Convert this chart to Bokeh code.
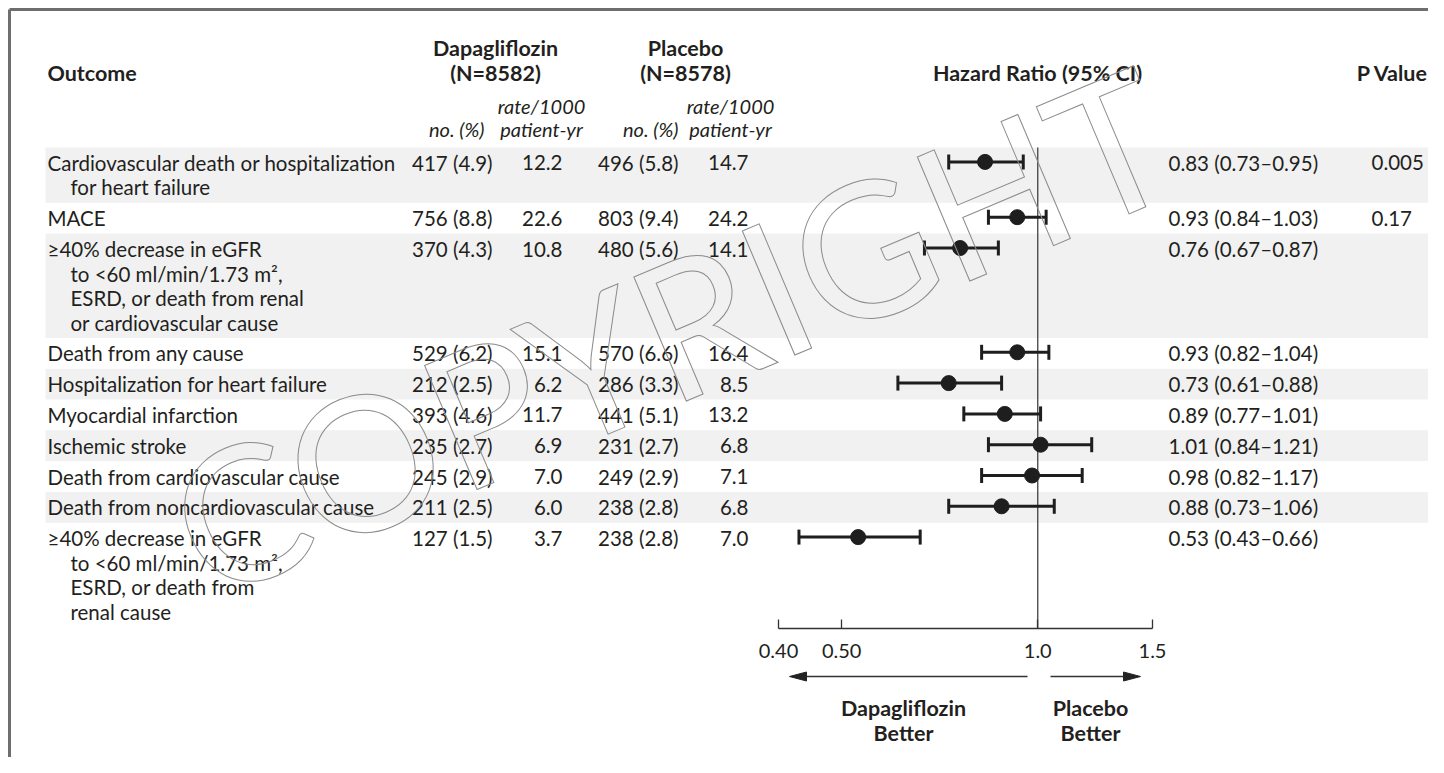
import math
from bokeh.plotting import figure
from bokeh.models import Range1d, LogScale, LogAxis, FixedTicker
from bokeh.core.properties import value
from bokeh.embed import file_html
from bokeh.resources import INLINE

# ---------------- data ----------------
outcome_lines = [
    ["Cardiovascular death or hospitalization", "for heart failure"],
    ["MACE"],
    ["\u226540% decrease in eGFR", "to <60 ml/min/1.73 m\u00b2,", "ESRD, or death from renal", "or cardiovascular cause"],
    ["Death from any cause"],
    ["Hospitalization for heart failure"],
    ["Myocardial infarction"],
    ["Ischemic stroke"],
    ["Death from cardiovascular cause"],
    ["Death from noncardiovascular cause"],
    ["\u226540% decrease in eGFR", "to <60 ml/min/1.73 m\u00b2,", "ESRD, or death from", "renal cause"],
]
dapa_events = [417, 756, 370, 529, 212, 393, 235, 245, 211, 127]
dapa_pct = [4.9, 8.8, 4.3, 6.2, 2.5, 4.6, 2.7, 2.9, 2.5, 1.5]
dapa_rate = [12.2, 22.6, 10.8, 15.1, 6.2, 11.7, 6.9, 7.0, 6.0, 3.7]
pla_events = [496, 803, 480, 570, 286, 441, 231, 249, 238, 238]
pla_pct = [5.8, 9.4, 5.6, 6.6, 3.3, 5.1, 2.7, 2.9, 2.8, 2.8]
pla_rate = [14.7, 24.2, 14.1, 16.4, 8.5, 13.2, 6.8, 7.1, 6.8, 7.0]
hr = [0.83, 0.93, 0.76, 0.93, 0.73, 0.89, 1.01, 0.98, 0.88, 0.53]
hr_lo = [0.73, 0.84, 0.67, 0.82, 0.61, 0.77, 0.84, 0.82, 0.73, 0.43]
hr_hi = [0.95, 1.03, 0.87, 1.04, 0.88, 1.01, 1.21, 1.17, 1.06, 0.66]
p_values = ["0.005", "0.17", "", "", "", "", "", "", "", ""]
tick_values = [0.40, 0.50, 1.0, 1.5]
tick_labels = ["0.40", "0.50", "1.0", "1.5"]
group_names = ["Dapagliflozin", "Placebo"]
group_ns = ["(N=8582)", "(N=8578)"]

# ---------------- layout constants (picture pixels) ----------------
FONT = "Lato"
TXT = "#231f20"
BAND = "#f1f1f1"
W, H = 1428, 757
X0, Y0 = 0, 0
ROW_TOP0, ROW_H1, LINE_H = 147.0, 30.8, 24.5
AX_LEFT_PX, AX_RIGHT_PX = 778.0, 1152.0
AXIS_Y = 628.0
FS = "20.5px"
FSB = "21.5px"
FSI = "20px"

p = figure(width=W, height=H, x_range=Range1d(X0, X0 + W), y_range=Range1d(Y0 + H, Y0),
           output_backend="svg", toolbar_location=None, x_axis_type=None, y_axis_type=None,
           min_border=0)
p.outline_line_color = None
p.background_fill_color = "white"
p.border_fill_color = "white"

# log scale for hazard ratios, aligned with the axis pixel extent
k = (AX_RIGHT_PX - AX_LEFT_PX) / math.log(tick_values[-1] / tick_values[0])
ref_px = AX_LEFT_PX - k * math.log(tick_values[0])
p.extra_x_ranges = {"hr": Range1d(math.exp((X0 - ref_px) / k), math.exp((X0 + W - ref_px) / k))}
p.extra_x_scales = {"hr": LogScale()}

# rows
tops, bots = [], []
t = ROW_TOP0
for lines in outcome_lines:
    tops.append(t)
    t += ROW_H1 + LINE_H * (len(lines) - 1)
    bots.append(t)
centers = [tp + ROW_H1 / 2 for tp in tops]

# bands
bi = [i for i in range(len(tops)) if i % 2 == 0]
p.quad(left=[45] * len(bi), right=[X0 + W] * len(bi), top=[tops[i] for i in bi],
       bottom=[bots[i] for i in bi], fill_color=BAND, line_color=None)

# frame lines
p.segment(x0=[9, 9], y0=[9, 9], x1=[X0 + W, 9], y1=[9, Y0 + H],
          line_color="#6e6e6e", line_width=3)


def txt(xs, ys, texts, align="left", style="normal", size=FS):
    p.text(x=xs, y=ys, text=texts, text_font=value(FONT), text_font_size=size,
           text_font_style=style, text_align=align, text_baseline="middle", text_color=TXT)


# headers
txt([47], [72], ["Outcome"], style="bold", size=FSB)
txt([495, 685], [47, 47], group_names, align="center", style="bold", size=FSB)
txt([495, 685], [72, 72], group_ns, align="center", style="bold", size=FSB)
txt([1037], [72], ["Hazard Ratio (95% CI)"], align="center", style="bold", size=FSB)
txt([1392], [72], ["P Value"], align="center", style="bold", size=FSB)
txt([484, 678], [128, 128], ["no. (%)", "no. (%)"], align="right", style="italic", size=FSI)
txt([541, 730], [105, 105], ["rate/1000", "rate/1000"], align="center", style="italic", size=FSI)
txt([541, 730], [128, 128], ["patient-yr", "patient-yr"], align="center", style="italic", size=FSI)

# outcome labels
lx, ly, lt = [], [], []
for c, lines in zip(centers, outcome_lines):
    for j, s in enumerate(lines):
        lx.append(47 if j == 0 else 70)
        ly.append(c + j * LINE_H)
        lt.append(s)
txt(lx, ly, lt)

txt([492] * 10, centers, [f"{e} ({q:.1f})" for e, q in zip(dapa_events, dapa_pct)], align="right")
txt([562] * 10, centers, [f"{r:.1f}" for r in dapa_rate], align="right")
txt([678] * 10, centers, [f"{e} ({q:.1f})" for e, q in zip(pla_events, pla_pct)], align="right")
txt([748] * 10, centers, [f"{r:.1f}" for r in pla_rate], align="right")
txt([1168] * 10, centers, [f"{h:.2f} ({a:.2f}\u2013{b:.2f})" for h, a, b in zip(hr, hr_lo, hr_hi)])
txt([1371] * 10, centers, p_values)

# forest
ym = [c - 1 for c in centers]
p.segment(x0=[1.0], x1=[1.0], y0=[ROW_TOP0], y1=[AXIS_Y], x_range_name="hr",
          line_color="#333333", line_width=1.2)
p.segment(x0=hr_lo, x1=hr_hi, y0=ym, y1=ym, x_range_name="hr", line_color="#1e1e1e", line_width=3)
p.dash(x=hr_lo + hr_hi, y=ym + ym, angle=math.pi / 2, size=15, x_range_name="hr",
       line_color="#1e1e1e", line_width=3)
p.scatter(x=hr, y=ym, size=15, x_range_name="hr", fill_color="#1e1e1e", line_color="#1e1e1e")

ax = LogAxis(x_range_name="hr", fixed_location=AXIS_Y, ticker=FixedTicker(ticks=tick_values),
             major_label_overrides={v: s for v, s in zip(tick_values, tick_labels)},
             bounds=(tick_values[0], tick_values[-1]),
             major_tick_in=9, major_tick_out=0, minor_tick_in=0, minor_tick_out=0,
             major_label_standoff=15, axis_line_color="#333333", axis_line_width=1.3,
             major_tick_line_color="#333333", major_tick_line_width=1.3,
             major_label_text_font=FONT, major_label_text_font_size="20px",
             major_label_text_color=TXT)
p.add_layout(ax, "below")

# direction arrows
ARROW_Y = 676
p.segment(x0=[1027, 1050], x1=[800, 1128], y0=[ARROW_Y, ARROW_Y], y1=[ARROW_Y, ARROW_Y],
          line_color="#333333", line_width=1.5)
p.patches(xs=[[789, 806, 806], [1140, 1123, 1123]],
          ys=[[ARROW_Y, ARROW_Y - 4.5, ARROW_Y + 4.5], [ARROW_Y, ARROW_Y - 4.5, ARROW_Y + 4.5]],
          fill_color="#222222", line_color="#222222")
txt([903, 1090], [707, 707], ["Dapagliflozin", "Placebo"], align="center", style="bold", size=FSB)
txt([903, 1090], [732, 732], ["Better", "Better"], align="center", style="bold", size=FSB)

# watermark (outlined text)
p.text(x=[670], y=[328], text=["COPYRIGHT"], angle=0.40, text_font=value(FONT),
       text_font_size="188px", text_color="rgba(255,255,255,0)", text_outline_color="#8c8c8c",
       text_align="center", text_baseline="middle")

open("out.html", "w").write(file_html(p, INLINE))
